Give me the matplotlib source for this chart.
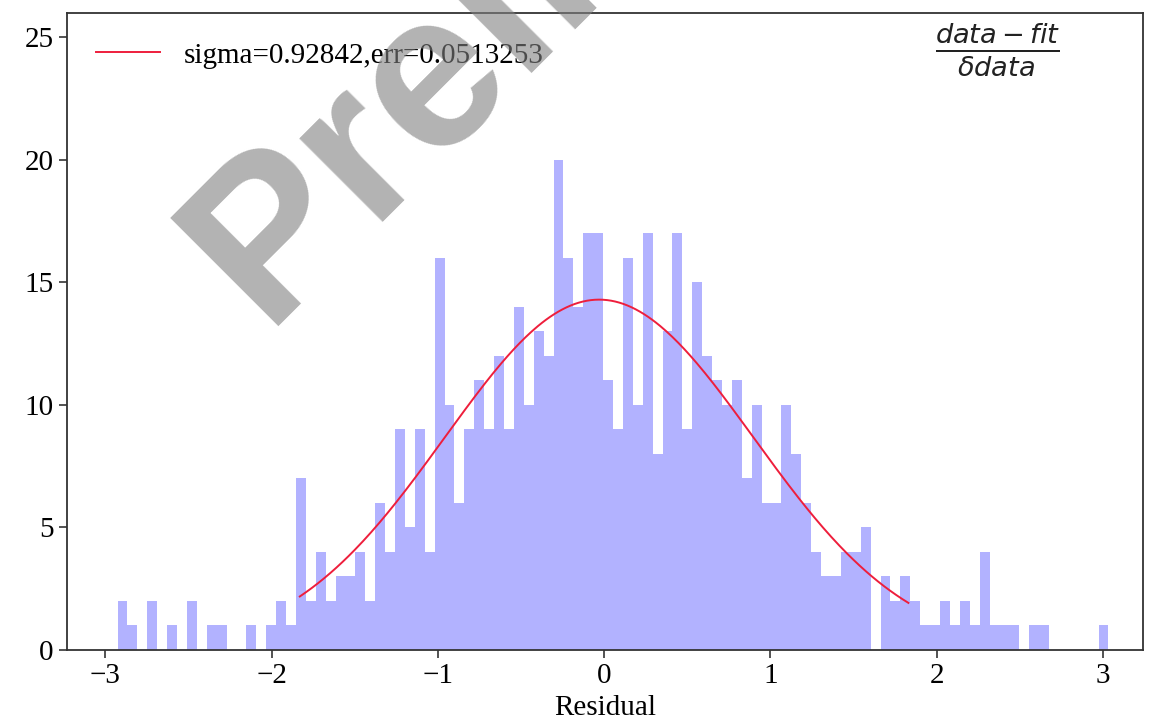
# Residual histogram with gaussian fit
import numpy as np
import matplotlib
matplotlib.use('Agg')
import matplotlib.pyplot as plt

# histogram data (100 bins between the min and max residual)
bin_lo = -2.926
bin_hi = 3.033
counts = [2, 1, 0, 2, 0, 1, 0, 2, 0, 1,
          1, 0, 0, 1, 0, 1, 2, 1, 7, 2,
          4, 2, 3, 3, 4, 2, 6, 4, 9, 5,
          9, 4, 16, 10, 6, 9, 11, 9, 12, 9,
          14, 10, 13, 12, 20, 16, 14, 17, 17, 11,
          9, 16, 10, 17, 8, 13, 17, 9, 15, 12,
          11, 10, 11, 7, 10, 6, 6, 10, 8, 6,
          4, 3, 3, 4, 4, 5, 0, 3, 2, 3,
          2, 1, 1, 2, 1, 2, 1, 4, 1, 1,
          1, 0, 1, 1, 0, 0, 0, 0, 0, 1]

# gaussian fit parameters
amp = 14.3
mu = -0.03
sigma = 0.92842
err = 0.0513253
fit_lo, fit_hi = -1.83, 1.83

plt.rcParams['font.family'] = ['Liberation Serif', 'DejaVu Serif']

fig = plt.figure(figsize=(11.65, 7.21), dpi=100)
ax = fig.add_axes([0.0575, 0.0985, 0.9235, 0.8835])

edges = np.linspace(bin_lo, bin_hi, len(counts) + 1)
centers = 0.5 * (edges[:-1] + edges[1:])
ax.hist(centers, bins=edges, weights=counts, color='blue', alpha=0.3)

xf = np.linspace(fit_lo, fit_hi, 300)
yf = amp * np.exp(-0.5 * ((xf - mu) / sigma) ** 2)
ax.plot(xf, yf, color='#ee1e3c', lw=1.4, label=f'sigma={sigma},err={err}')

ax.set_xlim(-3.23, 3.24)
ax.set_ylim(0, 26)
ax.set_xticks([-3, -2, -1, 0, 1, 2, 3])
ax.set_yticks([0, 5, 10, 15, 20, 25])
ax.tick_params(labelsize=21, length=6, width=1.3, color='#444444')
for sp in ax.spines.values():
    sp.set_linewidth(1.3)
    sp.set_color('#333333')
ax.set_xlabel('Residual', fontsize=21, labelpad=4)

ax.legend(loc='upper left', frameon=False, fontsize=21, handlelength=2.2,
          borderaxespad=0.6)

ax.text(0.865, 0.942, r'$\frac{data - fit}{\delta data}$', transform=ax.transAxes,
        ha='center', va='center', fontsize=28, color='#222222')

# watermark
fig.text(264 / 1165, 1 - 326 / 721, 'Preliminary', rotation=45, rotation_mode='anchor',
         ha='left', va='baseline', fontsize=160, fontweight='bold',
         family='Liberation Sans', color='gray', alpha=0.6, zorder=10)

fig.savefig('out.png', dpi=100)
